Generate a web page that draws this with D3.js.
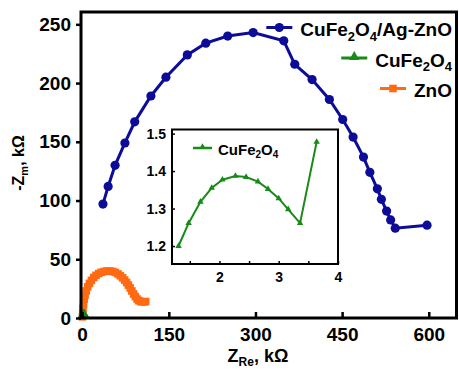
<!DOCTYPE html>
<html>
<head>
<meta charset="utf-8">
<script src="https://cdn.jsdelivr.net/npm/d3@7"></script>
<style>
  body { margin: 0; background: #fff; }
  svg { display: block; font-family: "Liberation Sans", Arial, sans-serif; font-weight: bold; }
</style>
</head>
<body>
<svg id="chart" width="459" height="369"></svg>
<script>
// CuFe2O4/Ag-ZnO composite (kOhm)
const compRe = [36, 45, 57, 74, 91, 119, 145, 182, 214, 252, 296, 349, 368, 398, 428, 451, 469, 487, 498, 511, 518, 527, 534, 542, 597];
const compIm = [97, 112, 130, 149, 167, 189, 205, 224, 234, 240, 243, 236, 216, 203, 186, 169, 154, 137, 124, 110, 101, 91, 83.5, 76.5, 79];

// CuFe2O4 alone (kOhm), also the inset
const ferRe = [1.31, 1.48, 1.68, 1.87, 2.05, 2.27, 2.45, 2.65, 2.82, 3.0, 3.16, 3.36, 3.64];
const ferIm = [1.200, 1.261, 1.318, 1.355, 1.377, 1.387, 1.384, 1.372, 1.352, 1.327, 1.298, 1.261, 1.478];

// ZnO (kOhm)
const znoRe = [0.5, 1, 1.5, 2.5, 3.5, 5, 7, 9.5, 12.5, 16, 20, 24, 28.5, 33, 38, 43, 48, 53, 57.5, 62, 66, 70, 73.5, 77, 80, 83, 86, 89, 92, 95, 98, 101, 104, 107, 110];
const znoIm = [1, 4, 8, 12, 16, 19.5, 23, 26.5, 29.5, 32, 34.5, 36.3, 37.8, 38.9, 39.6, 40, 40, 39.6, 38.8, 37.5, 36, 34.2, 32.3, 30.2, 28, 25.6, 23, 20.5, 18.2, 16.2, 14.8, 14, 13.8, 13.8, 14];

const xTicks = [0, 150, 300, 450, 600];
const yTicks = [0, 50, 100, 150, 200, 250];
const insetXTicks = [1.5, 2, 2.5, 3, 3.5, 4];
const insetXLabels = [2, 3, 4];
const insetYTicks = [1.2, 1.3, 1.4, 1.5];

const blue = "#0c0c98", green = "#178a17", orange = "#ff6a12";

const svg = d3.select("#chart");

const box = {l: 81, r: 456.5, t: 12, b: 318};
const x = d3.scaleLinear().domain([-2, 648]).range([box.l, box.r]);
const y = d3.scaleLinear().domain([0, 260.5]).range([box.b, box.t]);

const zip = (a, b) => a.map((v, i) => [v, b[i]]);
const comp = zip(compRe, compIm);
const fer = zip(ferRe, ferIm);
const zno = zip(znoRe, znoIm);

// rich text with subscripts
function rich(sel, parts, subSize) {
    let shifted = false;
    parts.forEach(p => {
        const isSub = Array.isArray(p);
        const t = sel.append("tspan").text(isSub ? p[0] : p);
        if (isSub && !shifted) { t.attr("dy", subSize * 0.35).attr("font-size", subSize); shifted = true; }
        else if (isSub) { t.attr("font-size", subSize); }
        else if (shifted) { t.attr("dy", -subSize * 0.35); shifted = false; }
    });
}

// ---- main plot ----
const line = d3.line().x(d => x(d[0])).y(d => y(d[1]));

// ZnO
svg.append("path").datum(zno).attr("d", line)
    .attr("fill", "none").attr("stroke", orange).attr("stroke-width", 3);
svg.append("g").selectAll("rect").data(zno).join("rect")
    .attr("x", d => x(d[0]) - 3.8).attr("y", d => y(d[1]) - 3.8)
    .attr("width", 7.6).attr("height", 7.6).attr("fill", orange);

// composite
svg.append("path").datum(comp).attr("d", line)
    .attr("fill", "none").attr("stroke", blue).attr("stroke-width", 3);
svg.append("g").selectAll("circle").data(comp).join("circle")
    .attr("cx", d => x(d[0])).attr("cy", d => y(d[1])).attr("r", 4.6).attr("fill", blue);

// CuFe2O4 on main scale
const triBig = d3.symbol().type(d3.symbolTriangle).size(45);
svg.append("path").datum(fer).attr("d", line)
    .attr("fill", "none").attr("stroke", green).attr("stroke-width", 2);
svg.append("g").selectAll("path").data(fer).join("path")
    .attr("transform", d => `translate(${x(d[0])},${y(d[1]) - 1.5})`)
    .attr("d", triBig).attr("fill", green);

// frame
svg.append("rect").attr("x", box.l).attr("y", box.t)
    .attr("width", box.r - box.l).attr("height", box.b - box.t)
    .attr("fill", "none").attr("stroke", "#000").attr("stroke-width", 3);

const xAxis = svg.append("g").attr("transform", `translate(0,${box.b})`)
    .call(d3.axisBottom(x).tickValues(xTicks).tickSizeInner(-6).tickSizeOuter(0).tickPadding(10));
const yAxis = svg.append("g").attr("transform", `translate(${box.l},0)`)
    .call(d3.axisLeft(y).tickValues(yTicks).tickSizeInner(5).tickSizeOuter(0).tickPadding(5));
[xAxis, yAxis].forEach(g => {
    g.select(".domain").remove();
    g.selectAll(".tick line").attr("stroke", "#000").attr("stroke-width", 2.5);
    g.selectAll(".tick text").attr("font-size", 19).attr("font-family", null).attr("fill", "#000");
});
xAxis.selectAll(".tick text").attr("dy", "0.68em");

// axis titles
const xt = svg.append("text").attr("x", 258).attr("y", 362).attr("text-anchor", "middle").attr("font-size", 18);
rich(xt, ["Z", ["Re"], ", k\u03A9"], 12);
const yt = svg.append("text").attr("transform", "translate(24,163) rotate(-90)").attr("text-anchor", "middle").attr("font-size", 16);
rich(yt, ["-Z", ["m"], ", k\u03A9"], 11);

// legend
const legend = [
    {parts: ["CuFe", ["2"], "O", ["4"], "/Ag-ZnO"], color: blue, sym: "circle", y: 36},
    {parts: ["CuFe", ["2"], "O", ["4"]], color: green, sym: "tri", y: 66.5},
    {parts: ["ZnO"], color: orange, sym: "sq", y: 97}
];
legend.forEach(it => {
    const t = svg.append("text").attr("x", 452).attr("y", it.y).attr("text-anchor", "end").attr("font-size", 19);
    rich(t, it.parts, 13);
    const bb = t.node().getBBox();
    const x1 = bb.x - 8, x0 = x1 - 26, cx = (x0 + x1) / 2, cy = it.y - 8.5;
    svg.append("line").attr("x1", x0).attr("x2", x1).attr("y1", cy).attr("y2", cy)
        .attr("stroke", it.color).attr("stroke-width", 3);
    if (it.sym === "circle") svg.append("circle").attr("cx", cx).attr("cy", cy).attr("r", 4.6).attr("fill", it.color);
    if (it.sym === "tri") svg.append("path").attr("d", triBig).attr("transform", `translate(${cx},${cy - 1})`).attr("fill", it.color);
    if (it.sym === "sq") svg.append("rect").attr("x", cx - 3.8).attr("y", cy - 3.8).attr("width", 7.6).attr("height", 7.6).attr("fill", it.color);
});

// ---- inset ----
const ib = {l: 172, r: 338, t: 129.5, b: 264};
const ix = d3.scaleLinear().domain([1.2, 4.0]).range([ib.l, ib.r]);
const iy = d3.scaleLinear().domain([1.152, 1.511]).range([ib.b, ib.t]);

svg.append("rect").attr("x", ib.l).attr("y", ib.t)
    .attr("width", ib.r - ib.l).attr("height", ib.b - ib.t).attr("fill", "#fff");

const iline = d3.line().x(d => ix(d[0])).y(d => iy(d[1]));
const triSmall = d3.symbol().type(d3.symbolTriangle).size(18);
svg.append("path").datum(fer).attr("d", iline)
    .attr("fill", "none").attr("stroke", green).attr("stroke-width", 2);
svg.append("g").selectAll("path").data(fer).join("path")
    .attr("transform", d => `translate(${ix(d[0])},${iy(d[1])})`)
    .attr("d", triSmall).attr("fill", green);

svg.append("rect").attr("x", ib.l).attr("y", ib.t)
    .attr("width", ib.r - ib.l).attr("height", ib.b - ib.t)
    .attr("fill", "none").attr("stroke", "#000").attr("stroke-width", 2);

const ixAxis = svg.append("g").attr("transform", `translate(0,${ib.b})`)
    .call(d3.axisBottom(ix).tickValues(insetXTicks).tickSizeInner(-3).tickSizeOuter(0).tickPadding(8)
        .tickFormat(d => insetXLabels.includes(d) ? d3.format("d")(d) : ""));
const iyAxis = svg.append("g").attr("transform", `translate(${ib.l},0)`)
    .call(d3.axisLeft(iy).tickValues(insetYTicks).tickSizeInner(-3).tickSizeOuter(0).tickPadding(6)
        .tickFormat(d3.format(".1f")));
[ixAxis, iyAxis].forEach(g => {
    g.select(".domain").remove();
    g.selectAll(".tick line").attr("stroke", "#000").attr("stroke-width", 1.5);
    g.selectAll(".tick text").attr("font-size", 14).attr("font-family", null).attr("fill", "#000");
});
ixAxis.selectAll(".tick text").attr("dy", "0.68em");

// inset legend
svg.append("line").attr("x1", 193).attr("x2", 212).attr("y1", 148).attr("y2", 148)
    .attr("stroke", green).attr("stroke-width", 2.5);
svg.append("path").attr("d", triSmall).attr("transform", "translate(202.5,147)").attr("fill", green);
const il = svg.append("text").attr("x", 218).attr("y", 154.5).attr("font-size", 15);
rich(il, ["CuFe", ["2"], "O", ["4"]], 10);
</script>
</body>
</html>
